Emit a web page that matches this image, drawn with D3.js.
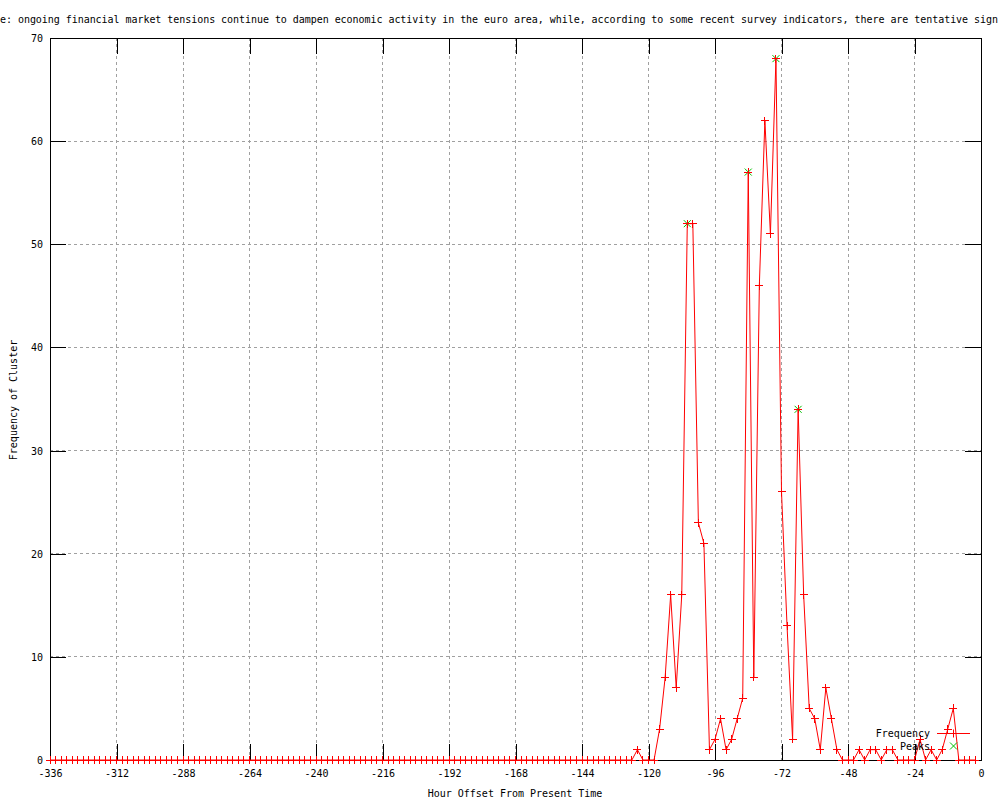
<!DOCTYPE html>
<html><head><meta charset="utf-8">
<script src="https://cdn.jsdelivr.net/npm/d3@7"></script>
<style>
body{margin:0;background:#fff;}
svg{display:block;}
text{font-family:"DejaVu Sans Mono","Liberation Mono",monospace;font-size:10px;fill:#000;}
</style>
</head><body><svg id="c" width="1000" height="800"></svg>
<script>
const titleText = "e: ongoing financial market tensions continue to dampen economic activity in the euro area, while, according to some recent survey indicators, there are tentative sign";
const xLabel = "Hour Offset From Present Time";
const yLabel = "Frequency of Cluster";
const legendLabels = ["Frequency", "Peaks"];

// hourly offsets, one sample every 2 hours
const hours = d3.range(-336, 0, 2);
const frequency = [
  0,0,0,0,0,0,0,0,0,0,0,0,0,0,0,0,0,0,0,0,
  0,0,0,0,0,0,0,0,0,0,0,0,0,0,0,0,0,0,0,0,
  0,0,0,0,0,0,0,0,0,0,0,0,0,0,0,0,0,0,0,0,
  0,0,0,0,0,0,0,0,0,0,0,0,0,0,0,0,0,0,0,0,
  0,0,0,0,0,0,0,0,0,0,0,0,0,0,0,0,0,0,0,0,
  0,0,0,0,0,0,
  1,0,0,0,3,8,16,7,16,52,52,23,21,
  1,2,4,1,2,4,6,57,8,46,62,51,68,26,13,2,34,16,5,4,1,7,4,1,0,
  0,0,1,0,1,1,0,1,1,0,0,0,0,2,0,1,0,1,3,5,0,0,0,0
];
const peakHours = [-106, -84, -74, -66];
const peakValues = [52, 57, 68, 34];

const xTicks = [-336,-312,-288,-264,-240,-216,-192,-168,-144,-120,-96,-72,-48,-24,0];
const xTickLabels = ["-336","-312","-288","-264","-240","-216","-192","-168","-144","-120","-96","-72","-48","-24","0"];
const yTicks = [0,10,20,30,40,50,60,70];
const yTickLabels = ["0","10","20","30","40","50","60","70"];

const L = 50, R = 981, T = 38, B = 760;
const svg = d3.select("#c");
const x = d3.scaleLinear().domain([-336, 0]).range([L, R]);
const y = d3.scaleLinear().domain([0, 70]).range([B, T]);

// grid
const grid = svg.append("g").attr("stroke", "#a0a0a0").attr("stroke-dasharray", "3,3").attr("shape-rendering", "crispEdges");
xTicks.slice(1, -1).forEach(t => grid.append("line").attr("x1", x(t)).attr("x2", x(t)).attr("y1", T).attr("y2", B));
yTicks.slice(1, -1).forEach(t => grid.append("line").attr("x1", L).attr("x2", R).attr("y1", y(t)).attr("y2", y(t)));

// axes (inward ticks, mirrored)
const ax = svg.append("g").attr("transform", `translate(0,${B})`)
  .call(d3.axisBottom(x).tickValues(xTicks).tickSize(-16).tickPadding(0).tickFormat((d, i) => xTickLabels[i]));
ax.selectAll("text").attr("y", 13).attr("dy", "0.35em");
const axT = svg.append("g").attr("transform", `translate(0,${T})`)
  .call(d3.axisTop(x).tickValues(xTicks).tickSize(-16).tickFormat(""));
const ay = svg.append("g").attr("transform", `translate(${L},0)`)
  .call(d3.axisLeft(y).tickValues(yTicks).tickSize(-16).tickPadding(0).tickFormat((d, i) => yTickLabels[i]));
ay.selectAll("text").attr("x", -7).attr("dy", "0.35em");
const ayR = svg.append("g").attr("transform", `translate(${R},0)`)
  .call(d3.axisRight(y).tickValues(yTicks).tickSize(-16).tickFormat(""));
[ax, axT, ay, ayR].forEach(g => {
  g.select(".domain").remove();
  g.selectAll("line").attr("stroke", "#000").attr("shape-rendering", "crispEdges");
  g.attr("font-family", null).attr("font-size", null);
});

// border
svg.append("rect").attr("x", L).attr("y", T).attr("width", R - L).attr("height", B - T)
  .attr("fill", "none").attr("stroke", "#000").attr("shape-rendering", "crispEdges");

// title and axis labels
svg.append("text").attr("x", 0).attr("y", 19).attr("dy", "0.35em")
  .attr("textLength", 998).attr("lengthAdjust", "spacing").text(titleText);
svg.append("text").attr("x", 515).attr("y", 793).attr("dy", "0.35em").attr("text-anchor", "middle").text(xLabel);
svg.append("text").attr("transform", "translate(13,400) rotate(-90)").attr("dy", "0.35em").attr("text-anchor", "middle").text(yLabel);

const plusPath = (px, py, h) => `M${px - h},${py}H${px + h}M${px},${py - h}V${py + h}`;
const crossPath = (px, py, h) => `M${px - h},${py - h}L${px + h},${py + h}M${px - h},${py + h}L${px + h},${py - h}`;

// peaks (green x)
const pk = svg.append("g").attr("stroke", "#00c000").attr("fill", "none");
peakHours.forEach((h, i) => pk.append("path").attr("d", crossPath(x(h), y(peakValues[i]), 3.5)));

// frequency line + points
const data = hours.map((h, i) => [h, frequency[i]]);
svg.append("path").datum(data)
  .attr("d", d3.line().x(d => x(d[0])).y(d => y(d[1])))
  .attr("fill", "none").attr("stroke", "#ff0000").attr("stroke-width", 1);
const fp = svg.append("g").attr("stroke", "#ff0000").attr("fill", "none").attr("shape-rendering", "crispEdges");
data.forEach(d => fp.append("path").attr("d", plusPath(x(d[0]), y(d[1]), 4)));

// legend
const lg = svg.append("g");
lg.append("text").attr("x", 930).attr("y", 733).attr("dy", "0.35em").attr("text-anchor", "end").text(legendLabels[0]);
lg.append("path").attr("d", "M937,733.5H970").attr("stroke", "#ff0000").attr("stroke-width", 1).attr("fill", "none");
lg.append("path").attr("d", plusPath(953.5, 733.5, 4)).attr("stroke", "#ff0000").attr("fill", "none");
lg.append("text").attr("x", 930).attr("y", 746).attr("dy", "0.35em").attr("text-anchor", "end").text(legendLabels[1]);
lg.append("path").attr("d", crossPath(953.5, 746, 3.5)).attr("stroke", "#00c000").attr("fill", "none");
</script>
</body></html>
